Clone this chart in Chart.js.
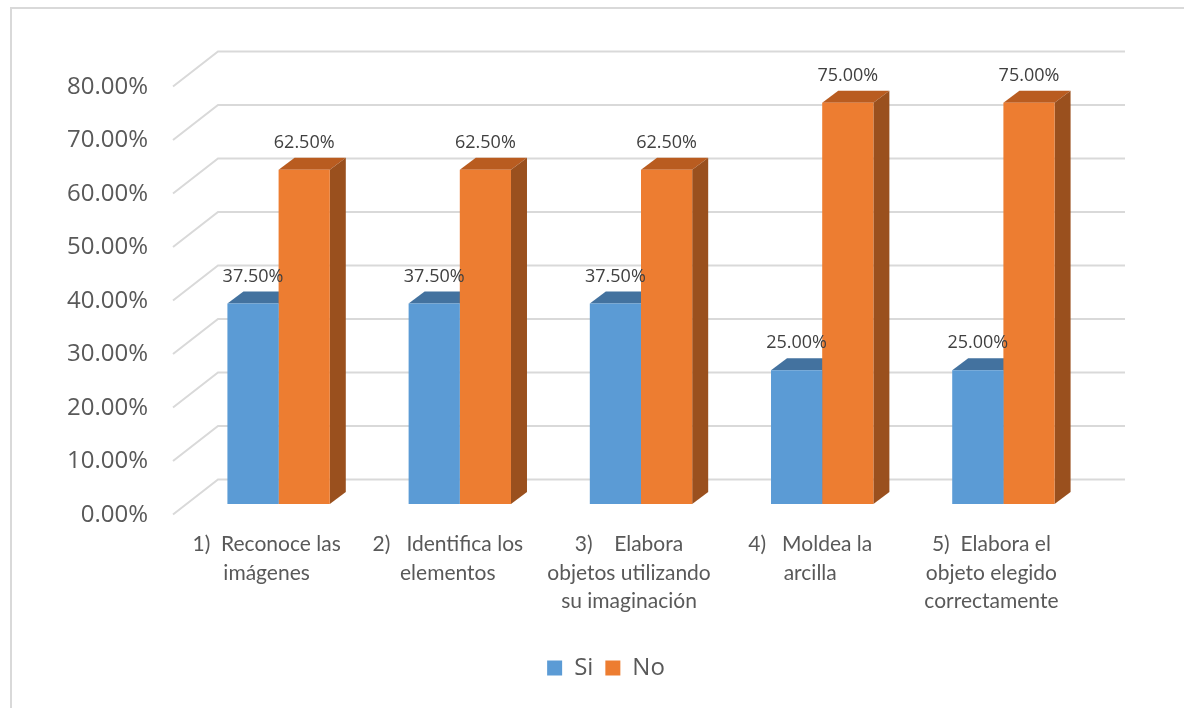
<!DOCTYPE html>
<html>
<head>
<meta charset="utf-8">
<script src="https://cdn.jsdelivr.net/npm/chart.js@4.4.0/dist/chart.umd.min.js"></script>
<style>
  body { margin: 0; background: #fff; overflow: hidden; }
  #frame { position: absolute; left: 10px; top: 7px; width: 1300px; height: 800px; border: 2px solid #d9d9d9; }
  #myChart { position: absolute; left: 0; top: 0; }
</style>
</head>
<body>
<div id="frame"></div>
<canvas id="myChart" width="1184" height="708"></canvas>
<script>
// categories, series values and tick labels
const categories = [
    ['1)  Reconoce las', 'imágenes'],
    ['2)   Identifica los', 'elementos'],
    ['3)    Elabora', 'objetos utilizando', 'su imaginación'],
    ['4)   Moldea la', 'arcilla'],
    ['5)  Elabora el', 'objeto elegido', 'correctamente']
];
const siValues = [37.5, 37.5, 37.5, 25, 25];
const noValues = [62.5, 62.5, 62.5, 75, 75];
const seriesNames = ['Si', 'No'];
const yTicks = [0, 10, 20, 30, 40, 50, 60, 70, 80];

// 3D look: front, top and side face colors
const faces = [
    { front: '#5B9BD5', top: '#43729F', side: '#3E6A94' },
    { front: '#ED7D31', top: '#B95C20', side: '#9A501E' }
];
const depth = { dx: 16, dy: -12 };

// Draws the back wall / side wall gridlines and the top and side faces of the bars
const box3d = {
    id: 'box3d',
    beforeDatasetsDraw(chart) {
        const ctx = chart.ctx;
        const area = chart.chartArea;
        const y = chart.scales.y;
        ctx.save();
        ctx.strokeStyle = '#d9d9d9';
        ctx.lineWidth = 2;
        yTicks.forEach(v => {
            const py = y.getPixelForValue(v);
            ctx.beginPath();
            ctx.moveTo(area.left - 15, py + 10.5);
            ctx.lineTo(area.left + 30, py - 24.5);
            ctx.lineTo(area.right + 31, py - 24.5);
            ctx.stroke();
        });

        chart.data.datasets.forEach((ds, i) => {
            chart.getDatasetMeta(i).data.forEach(bar => {
                const l = bar.x - bar.width / 2, r = bar.x + bar.width / 2;
                const t = bar.y, b = bar.base;
                // top face
                ctx.fillStyle = faces[i].top;
                ctx.beginPath();
                ctx.moveTo(l, t);
                ctx.lineTo(l + depth.dx, t + depth.dy);
                ctx.lineTo(r + depth.dx, t + depth.dy);
                ctx.lineTo(r, t);
                ctx.closePath();
                ctx.fill();
                // side face
                ctx.fillStyle = faces[i].side;
                ctx.beginPath();
                ctx.moveTo(r, t);
                ctx.lineTo(r + depth.dx, t + depth.dy);
                ctx.lineTo(r + depth.dx, b + depth.dy);
                ctx.lineTo(r, b);
                ctx.closePath();
                ctx.fill();
            });
        });
        ctx.restore();
    },
    afterDatasetsDraw(chart) {
        const ctx = chart.ctx;
        ctx.save();
        ctx.fillStyle = '#404040';
        ctx.font = '18px "Open Sans"';
        ctx.textAlign = 'center';
        ctx.textBaseline = 'middle';
        chart.data.datasets.forEach((ds, i) => {
            chart.getDatasetMeta(i).data.forEach((bar, j) => {
                ctx.fillText(ds.data[j].toFixed(2) + '%', bar.x, bar.y - 27);
            });
        });
        ctx.restore();
    }
};

const ctx = document.getElementById('myChart').getContext('2d');
const chart = new Chart(ctx, {
    type: 'bar',
    data: {
        labels: categories,
        datasets: [
            { label: seriesNames[0], data: siValues, backgroundColor: faces[0].front, borderWidth: 0 },
            { label: seriesNames[1], data: noValues, backgroundColor: faces[1].front, borderWidth: 0 }
        ]
    },
    plugins: [box3d],
    options: {
        responsive: false,
        animation: false,
        categoryPercentage: 0.565,
        barPercentage: 1,
        layout: { padding: { left: 28, top: 76, right: 0, bottom: 18 } },
        scales: {
            x: {
                grid: { display: false, drawTicks: false },
                border: { display: false },
                ticks: {
                    color: '#595959',
                    font: { family: 'Lato', size: 21, lineHeight: 1.36 },
                    padding: 26,
                    labelOffset: -12,
                    maxRotation: 0,
                    autoSkip: false
                },
                afterFit: s => { s.height = 140; }
            },
            y: {
                min: 0,
                max: 80,
                grid: { display: false, drawTicks: false },
                border: { display: false },
                afterBuildTicks: s => { s.ticks = yTicks.map(v => ({ value: v })); },
                afterFit: s => { s.width = 160; },
                ticks: {
                    color: '#595959',
                    font: { family: 'Open Sans', size: 24 },
                    padding: 40,
                    labelOffset: 11,
                    callback: v => v.toFixed(2) + '%'
                }
            },
            y2: {
                position: 'right',
                display: true,
                grid: { display: false, drawTicks: false },
                border: { display: false },
                ticks: { display: false },
                afterFit: s => { s.width = 90; }
            }
        },
        plugins: {
            tooltip: { enabled: false },
            legend: {
                position: 'bottom',
                labels: {
                    boxWidth: 15,
                    boxHeight: 15,
                    padding: 12,
                    color: '#595959',
                    font: { family: 'Open Sans', size: 24 }
                }
            }
        }
    }
});
</script>
</body>
</html>
